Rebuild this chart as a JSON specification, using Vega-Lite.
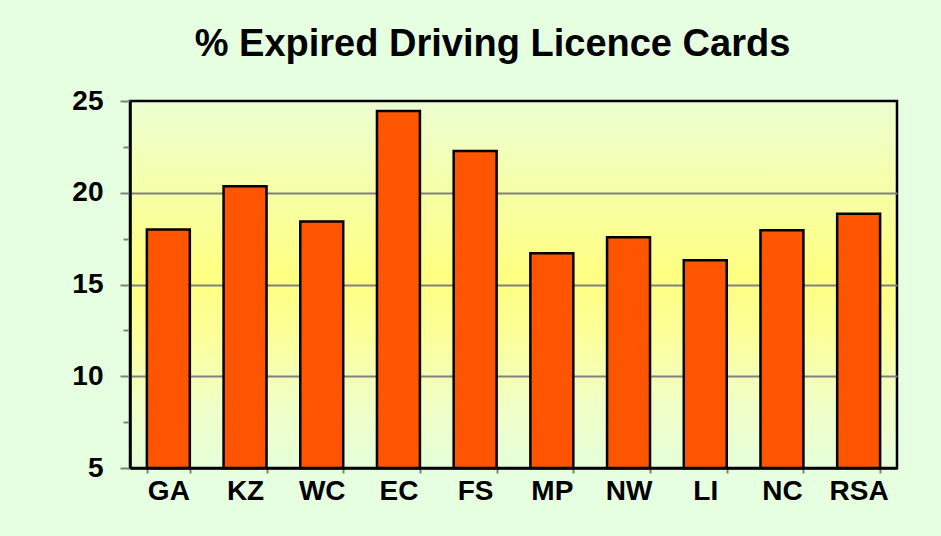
{
  "$schema": "https://vega.github.io/schema/vega-lite/v6.json",
  "width": 767,
  "height": 367,
  "autosize": {"type": "none"},
  "padding": {"left": 130, "top": 101, "right": 44, "bottom": 68},
  "background": "#e6ffe0",
  "view": {
    "fill": {
      "gradient": "linear",
      "x1": 0, "y1": 0, "x2": 0, "y2": 1,
      "stops": [
        {"offset": 0, "color": "#ebffd2"},
        {"offset": 0.24, "color": "#f6ffa8"},
        {"offset": 0.48, "color": "#ffff80"},
        {"offset": 0.63, "color": "#fcff98"},
        {"offset": 0.82, "color": "#f0ffc4"},
        {"offset": 1, "color": "#e6ffda"}
      ]
    },
    "stroke": "#000000",
    "strokeWidth": 2.5
  },
  "title": {
    "text": "% Expired Driving Licence Cards",
    "font": "Liberation Sans",
    "fontSize": 38,
    "fontWeight": "bold",
    "color": "#000000",
    "anchor": "middle",
    "dx": -21,
    "offset": 23
  },
  "data": {
    "values": [
      {"region": "GA", "pct": 18.0},
      {"region": "KZ", "pct": 20.35},
      {"region": "WC", "pct": 18.43},
      {"region": "EC", "pct": 24.45},
      {"region": "FS", "pct": 22.28},
      {"region": "MP", "pct": 16.7},
      {"region": "NW", "pct": 17.57},
      {"region": "LI", "pct": 16.32},
      {"region": "NC", "pct": 17.95},
      {"region": "RSA", "pct": 18.86}
    ]
  },
  "mark": {"type": "bar", "fill": "#ff5500", "stroke": "#000000", "strokeWidth": 2.5},
  "encoding": {
    "x": {
      "field": "region",
      "type": "nominal",
      "sort": null,
      "scale": {"paddingInner": 0.44, "paddingOuter": 0.22},
      "axis": {
        "title": null,
        "labelAngle": 0,
        "labelFont": "Liberation Sans",
        "labelFontSize": 28,
        "labelFontWeight": "bold",
        "labelColor": "#000000",
        "labelPadding": 4,
        "tickBand": "extent",
        "tickSize": 5,
        "tickColor": "#808080",
        "tickWidth": 2,
        "domainColor": "#000000",
        "domainWidth": 2.5,
        "grid": false
      }
    },
    "y": {
      "field": "pct",
      "type": "quantitative",
      "scale": {"domain": [5, 25], "zero": false, "nice": false},
      "axis": {
        "title": null,
        "values": [5, 7.5, 10, 12.5, 15, 17.5, 20, 22.5, 25],
        "labelExpr": "datum.value % 5 === 0 ? datum.label : ''",
        "labelFont": "Liberation Sans",
        "labelFontSize": 28,
        "labelFontWeight": "bold",
        "labelColor": "#000000",
        "labelPadding": 17,
        "tickSize": {"condition": {"test": "datum.value % 5 !== 0", "value": 7}, "value": 10},
        "tickColor": "#808080",
        "tickWidth": 2,
        "domainColor": "#000000",
        "domainWidth": 2.5,
        "grid": true,
        "gridColor": "#808080",
        "gridWidth": 2,
        "gridOpacity": {"condition": {"test": "datum.value % 5 !== 0 || datum.value === 5 || datum.value === 25", "value": 0}, "value": 1}
      }
    },
    "y2": {"datum": 5}
  }
}
